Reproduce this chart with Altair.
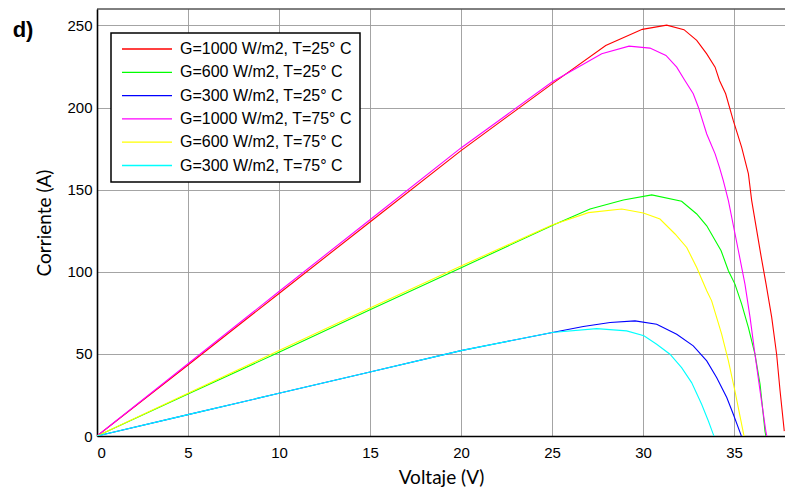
import altair as alt
import pandas as pd

# Series labels and colours
series_names = [
    "G=1000 W/m2, T=25° C",
    "G=600 W/m2, T=25° C",
    "G=300 W/m2, T=25° C",
    "G=1000 W/m2, T=75° C",
    "G=600 W/m2, T=75° C",
    "G=300 W/m2, T=75° C",
]
series_colors = ["#ff0000", "#00ff00", "#0000ff", "#ff00ff", "#ffff00", "#00ffff"]

# Voltage (V) / current (A)
v_1000_25 = [0, 5, 10, 15, 20, 25, 27.95, 29.96, 31.3, 32.25, 32.95, 33.5, 33.96, 34.2, 34.54,
             34.96, 35.42, 35.79, 35.97, 36.48, 36.76, 37.07, 37.34, 37.53, 37.76]
i_1000_25 = [0, 43.2, 86.8, 130.3, 173.8, 214.4, 237.8, 247.6, 250.2, 247.4, 240.9, 232.7, 224.6,
             216.5, 208.4, 192, 175.8, 159.6, 143.3, 109.8, 92.5, 72.2, 49.8, 27.4, 3]

v_600_25 = [0, 5, 10, 15, 20.04, 25.07, 27.09, 28.92, 30.48, 32.12, 32.95, 33.5, 34.29, 34.69,
            35.05, 35.42, 35.79, 36.15, 36.43, 36.7, 36.75]
i_600_25 = [0, 25.5, 51, 76.8, 102.6, 128.5, 138.2, 143.7, 146.8, 142.9, 135.2, 128, 112.8, 100.6,
            92.5, 80.3, 66, 49.8, 31.5, 3, 0]

v_300_25 = [0, 5, 10, 15, 20, 21.96, 25.02, 26.72, 28.19, 29.56, 30.75, 31.85, 32.76, 33.5, 34.05,
            34.6, 34.96, 35.37, 35.4]
i_300_25 = [0, 13, 26, 39, 52, 56.3, 63, 66.7, 69.1, 70.1, 68.1, 62, 54.9, 45.7, 35.5, 23.4, 13.2,
            1, 0]

v_1000_75 = [0, 5, 10, 15, 20, 25, 27.73, 29.23, 30.38, 31.26, 31.85, 32.3, 32.76, 33.04, 33.5,
             33.96, 34.2, 34.41, 34.69, 35.24, 35.6, 35.88, 36.15, 36.43, 36.76, 36.8]
i_1000_75 = [0, 44, 88, 131.7, 175.4, 215.5, 232.7, 237.4, 236.2, 231.7, 224.6, 216.5, 208.4,
             200.2, 183.9, 171.8, 163.6, 155.5, 143.3, 112.8, 92.5, 72.2, 49.8, 27.4, 2, 0]

v_600_75 = [0, 5, 10, 15, 20, 25, 27, 28.83, 30.02, 30.93, 31.76, 32.4, 32.95, 33.5, 33.77, 34.32,
            34.69, 35.05, 35.51, 35.55]
i_600_75 = [0, 26, 52, 78, 103.5, 128.5, 136, 138.2, 135.8, 132.1, 123, 114.8, 102.6, 88.4, 82.3,
            62, 45.7, 27.4, 2, 0]

v_300_75 = [0, 5, 10, 15, 20, 25, 27.45, 29.1, 30.05, 30.75, 31.48, 32.12, 32.67, 33.22, 33.59,
            33.86, 33.9]
i_300_75 = [0, 13, 26, 39, 52, 63, 65.4, 64, 61, 55.9, 49.8, 41.6, 32.5, 19.3, 9.1, 1, 0]

x_ticks = [0, 5, 10, 15, 20, 25, 30, 35]
y_ticks = [0, 50, 100, 150, 200, 250]
panel_label = "d)"

voltages = [v_1000_25, v_600_25, v_300_25, v_1000_75, v_600_75, v_300_75]
currents = [i_1000_25, i_600_25, i_300_25, i_1000_75, i_600_75, i_300_75]

rows = []
for name, vs, cs in zip(series_names, voltages, currents):
    for k, (v, c) in enumerate(zip(vs, cs)):
        rows.append({"serie": name, "V": v, "I": c, "k": k})
df = pd.DataFrame(rows)

W, H = 688, 427

lines = alt.Chart(df).mark_line(strokeWidth=1.1, clip=True).encode(
    x=alt.X("V:Q", scale=alt.Scale(domain=[0, 37.8], nice=False, zero=False),
            axis=alt.Axis(values=x_ticks, title="Voltaje (V)", grid=True, ticks=False,
                          tickSize=0, labelPadding=9, titlePadding=8)),
    y=alt.Y("I:Q", scale=alt.Scale(domain=[0, 260], nice=False),
            axis=alt.Axis(values=y_ticks, title="Corriente (A)", grid=True, ticks=False,
                          tickSize=0, labelPadding=5, titlePadding=12)),
    color=alt.Color("serie:N",
                    scale=alt.Scale(domain=series_names, range=series_colors),
                    sort=series_names,
                    legend=alt.Legend(title=None, orient="none", legendX=14, legendY=24,
                                      symbolType="M-1,0H9", symbolSize=100,
                                      symbolStrokeWidth=1.3, labelOffset=45,
                                      labelFontSize=16, labelFont="Liberation Sans",
                                      labelColor="#000000", rowPadding=7.3, padding=8,
                                      fillColor="#ffffff", strokeColor="#000000",
                                      labelLimit=400)),
    order="k:Q",
    detail="serie:N",
)

top_border = alt.Chart(pd.DataFrame({"a": [0]})).mark_rule(color="#000000", strokeWidth=1).encode(
    x=alt.value(0), x2=alt.value(W), y=alt.value(0)
)

label = alt.Chart(pd.DataFrame({"t": [panel_label]})).mark_text(
    font="Liberation Sans", fontSize=22, fontWeight="bold", color="#000000",
    align="center", baseline="middle"
).encode(text="t:N", x=alt.value(-74), y=alt.value(21))

chart = alt.layer(lines, top_border, label).properties(
    width=W, height=H,
    autosize=alt.AutoSizeParams(type="none"),
    padding={"left": 97, "top": 9, "right": 0, "bottom": 58},
).configure_view(stroke=None).configure_axis(
    labelFont="Liberation Sans", labelFontSize=15, labelColor="#000000",
    titleFont="Lato", titleFontSize=19, titleFontWeight="normal", titleColor="#000000",
    gridColor="#9a9a9a", gridWidth=1, gridOpacity=0.9,
    domainColor="#000000", domainWidth=1.6,
).configure_legend(strokeWidth=1.5, cornerRadius=0)

chart.save("out.html", embed_options={"renderer": "svg", "actions": False})
